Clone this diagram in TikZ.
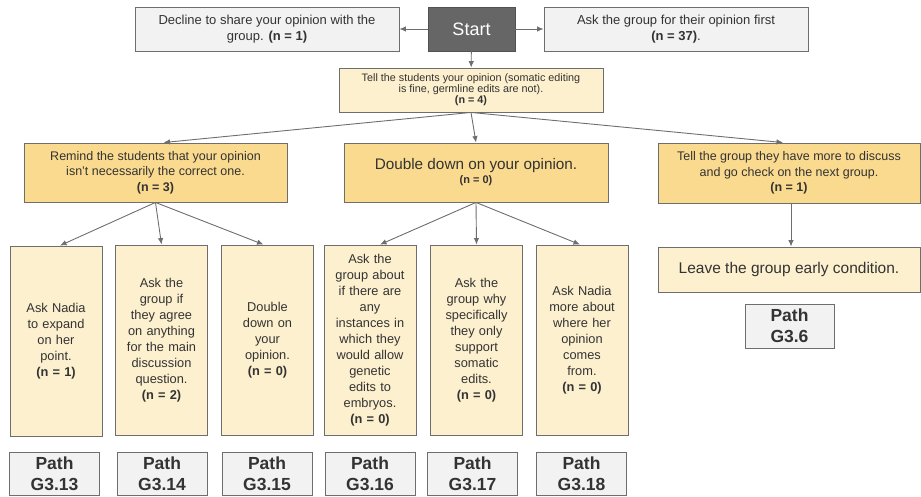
\documentclass[tikz,border=0pt]{standalone}
\usepackage{fontspec}
\setmainfont{Liberation Sans}
\usetikzlibrary{arrows.meta}
\definecolor{ink}{HTML}{333333}
\definecolor{edge}{HTML}{6E6E6E}
\definecolor{greyfill}{HTML}{F2F2F2}
\definecolor{startfill}{HTML}{666666}
\definecolor{cream}{HTML}{FDF0CE}
\definecolor{gold}{HTML}{FADA8E}
\tikzset{
  base/.style={draw=edge, line width=0.9pt, text=ink, align=center, inner sep=2pt},
  greybox/.style={base, fill=greyfill},
  creambox/.style={base, fill=cream},
  goldbox/.style={base, fill=gold},
  tallbox/.style={creambox, minimum width=92pt, minimum height=190pt, text width=86pt,
    font=\fontsize{12.8}{16}\selectfont},
  pathbox/.style={greybox, minimum width=90pt, minimum height=43pt,
    font=\fontsize{17.5}{21}\selectfont\bfseries},
  arr/.style={draw=edge, line width=0.9pt, -{Latex[length=6.5pt,width=5.5pt]}}
}
\begin{document}
\begin{tikzpicture}[x=1pt,y=-1pt]
\useasboundingbox (0,0) rectangle (921,497);
% top row
\node[greybox, minimum width=264pt, minimum height=44pt, font=\fontsize{13}{15.5}\selectfont]
  (decline) at (267,29) {Decline to share your opinion with the\\group. \textbf{(n = 1)}};
\node[base, fill=startfill, draw=startfill!80!black, text=white, minimum width=87pt, minimum height=44pt,
  font=\fontsize{18}{20}\selectfont] (start) at (471.5,29) {Start};
\node[greybox, minimum width=264pt, minimum height=44pt, font=\fontsize{13}{15.5}\selectfont]
  (ask) at (676,29) {Ask the group for their opinion first\\\textbf{(n = 37)}.};
\node[creambox, minimum width=264pt, minimum height=44pt, font=\fontsize{10.8}{11}\selectfont]
  (tell) at (471,90) {Tell the students your opinion (somatic editing\\is fine, germline edits are not).\\\textbf{(n = 4)}};
% second row
\node[goldbox, minimum width=263pt, minimum height=59pt, font=\fontsize{12.5}{15.5}\selectfont]
  (remind) at (155.5,172.5) {Remind the students that your opinion\\isn’t necessarily the correct one.\\\textbf{(n = 3)}};
\node[goldbox, minimum width=264pt, minimum height=59pt]
  (dd) at (476,172.5) {{\fontsize{15.3}{18}\selectfont Double down on your opinion.}\\[2pt]{\fontsize{11}{13}\selectfont\bfseries (n = 0)}};
\node[goldbox, minimum width=262pt, minimum height=60pt, font=\fontsize{12.5}{15.5}\selectfont]
  (tg) at (789,173) {Tell the group they have more to discuss\\and go check on the next group.\\\textbf{(n = 1)}};
\node[creambox, minimum width=262pt, minimum height=45pt, font=\fontsize{15.5}{18}\selectfont]
  (leave) at (789,269.5) {Leave the group early condition.};
\node[pathbox, minimum width=89pt, minimum height=44pt] (p36) at (789.5,326) {Path\\G3.6};
% third row
\node[tallbox] (b1) at (56,341) {Ask Nadia\\to expand\\on her\\point.\\\textbf{(n = 1)}};
\node[tallbox] (b2) at (161.5,340) {Ask the\\group if\\they agree\\on anything\\for the main\\discussion\\question.\\\textbf{(n = 2)}};
\node[tallbox] (b3) at (267.5,340) {Double\\down on\\your\\opinion.\\\textbf{(n = 0)}};
\node[tallbox] (b4) at (370,340) {Ask the\\group about\\if there are\\any\\instances in\\which they\\would allow\\genetic\\edits to\\embryos.\\\textbf{(n = 0)}};
\node[tallbox] (b5) at (476.5,340) {Ask the\\group why\\specifically\\they only\\support\\somatic\\edits.\\\textbf{(n = 0)}};
\node[tallbox] (b6) at (582,340) {Ask Nadia\\more about\\where her\\opinion\\comes\\from.\\\textbf{(n = 0)}};
% path labels
\node[pathbox] (p13) at (54.5,473.5) {Path\\G3.13};
\node[pathbox] (p14) at (162,473.5) {Path\\G3.14};
\node[pathbox] (p15) at (267,473.5) {Path\\G3.15};
\node[pathbox] (p16) at (370,473.5) {Path\\G3.16};
\node[pathbox] (p17) at (472.5,473.5) {Path\\G3.17};
\node[pathbox] (p18) at (581.5,473.5) {Path\\G3.18};
% connectors
\draw[arr] (start) -- (decline);
\draw[arr] (start) -- (ask);
\draw[arr] (start) -- (tell);
\draw[arr] (tell.south) -- ([xshift=8pt]remind.north);
\draw[arr] (tell.south) -- (dd.north);
\draw[arr] (tell.south) -- ([xshift=-6pt]tg.north);
\draw[arr] (remind.south) -- ([xshift=4pt]b1.north);
\draw[arr] (remind.south) -- (b2.north);
\draw[arr] (remind.south) -- ([xshift=-4pt]b3.north);
\draw[arr] (dd.south) -- ([xshift=10pt]b4.north);
\draw[arr] (dd.south) -- (b5.north);
\draw[arr] (dd.south) -- ([xshift=-2pt]b6.north);
\draw[arr] ([xshift=2pt]tg.south) -- ([xshift=2pt]leave.north);
\end{tikzpicture}
\end{document}
